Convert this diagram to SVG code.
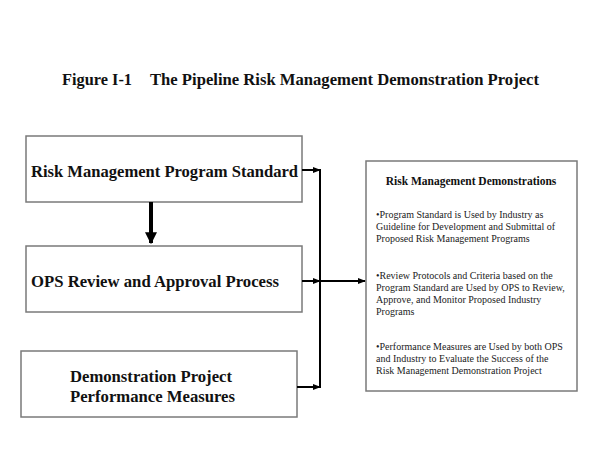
<svg xmlns="http://www.w3.org/2000/svg" width="600" height="450" viewBox="0 0 600 450">
<defs>
<style>
.box{fill:#fff;stroke:#7a7a7a;stroke-width:1.5}
.bt{font-family:"Liberation Serif","Times New Roman",serif;font-weight:bold;font-size:17px;fill:#111}
.st{font-family:"Liberation Serif","Times New Roman",serif;font-size:10px;fill:#222}
.conn{stroke:#000;stroke-width:2;fill:none}
</style>
<marker id="ah" viewBox="0 0 10 10" refX="9" refY="5" markerWidth="4" markerHeight="4" orient="auto" markerUnits="strokeWidth">
<path d="M0,1 L10,5 L0,9 z" fill="#000"/>
</marker>
<marker id="ahb" viewBox="0 0 10 10" refX="9" refY="5" markerWidth="3" markerHeight="3" orient="auto" markerUnits="strokeWidth">
<path d="M0,0 L10,5 L0,10 z" fill="#000"/>
</marker>
</defs>
<rect width="600" height="450" fill="#fff"/>
<g id="title">
<text x="62" y="85" class="bt" style="font-size:16.5px" textLength="70" lengthAdjust="spacingAndGlyphs">Figure I-1</text>
<text x="150" y="85" class="bt" style="font-size:16.5px" textLength="389" lengthAdjust="spacingAndGlyphs">The Pipeline Risk Management Demonstration Project</text>
</g>

<g id="n1">
<rect class="box" x="26" y="136" width="276" height="66"/>
<text class="bt" x="31" y="177" textLength="267" lengthAdjust="spacingAndGlyphs">Risk Management Program Standard</text>
</g>
<g id="n2">
<rect class="box" x="26" y="246" width="276" height="66"/>
<text class="bt" x="31" y="287" textLength="248" lengthAdjust="spacingAndGlyphs">OPS Review and Approval Process</text>
</g>
<g id="n3">
<rect class="box" x="21" y="351" width="276" height="66"/>
<text class="bt" x="70" y="382" textLength="162" lengthAdjust="spacingAndGlyphs">Demonstration Project</text>
<text class="bt" x="70" y="402" textLength="165" lengthAdjust="spacingAndGlyphs">Performance Measures</text>
</g>
<g id="n4">
<rect class="box" x="366" y="161" width="211" height="230"/>
<text class="bt" x="471" y="185" text-anchor="middle" style="font-size:11.5px">Risk Management Demonstrations</text>
<text class="st" x="376" y="218">•Program Standard is Used by Industry as</text>
<text class="st" x="376" y="230">Guideline for Development and Submittal of</text>
<text class="st" x="376" y="242">Proposed Risk Management Programs</text>
<text class="st" x="376" y="279">•Review Protocols and Criteria based on the</text>
<text class="st" x="376" y="291">Program Standard are Used by OPS to Review,</text>
<text class="st" x="376" y="303">Approve, and Monitor Proposed Industry</text>
<text class="st" x="376" y="315">Programs</text>
<text class="st" x="376" y="350">•Performance Measures are Used by both OPS</text>
<text class="st" x="376" y="362">and Industry to Evaluate the Success of the</text>
<text class="st" x="376" y="374">Risk Management Demonstration Project</text>
</g>

<g id="connectors">
<line x1="151" y1="202" x2="151" y2="243" stroke="#000" stroke-width="4" marker-end="url(#ahb)"/>
<line class="conn" x1="302" y1="170" x2="320" y2="170" marker-end="url(#ah)"/>
<line class="conn" x1="302" y1="281" x2="320" y2="281" marker-end="url(#ah)"/>
<line class="conn" x1="297" y1="387" x2="320" y2="387" marker-end="url(#ah)"/>
<line class="conn" x1="320" y1="169" x2="320" y2="388"/>
<line class="conn" x1="320" y1="281" x2="365" y2="281" marker-end="url(#ah)"/>
</g>
</svg>
